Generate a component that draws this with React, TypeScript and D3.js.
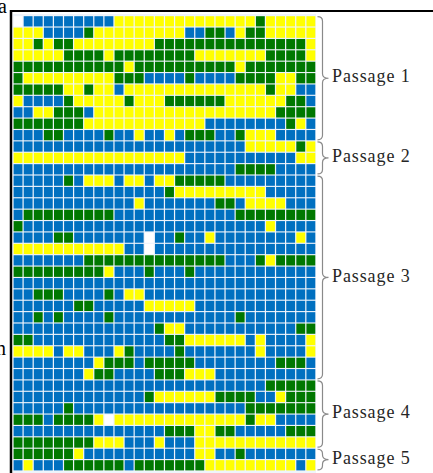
import React, { useEffect, useRef } from 'react';
import * as d3 from 'd3';

// B = blue, Y = yellow, G = green, W = empty
const passage1 = [
  'WBBBBBBBBBYYYYYYYYYYYYYYGYYYYY',
  'YYYBBBBGYYYYYYYYYBBGGBYGGYYYYY',
  'YYGYGGYYYYYYYYGGGGGGGGGGGGGGGY',
  'YYYYYGGGGYGGGGGGGGYYYYYYYGGGGY',
  'GGGGGGGGGGGYGGGGGGGGGGYGGGGGGG',
  'GYYYYYYYYYGGGBBBBGBBBBGGGGYYGG',
  'GGGGGYYGYYBYYYYYYYYYYYYYYGYYBB',
  'YBBBBGYYYYYGYYYGGGGGGYYYYYYGGB',
  'BBYYGGGBYYYYYYYYYYYYYYYYYYGGGG',
  'GGGGGGGYYYYYYYYYYYYBBBBBBBBGYB',
  'BBBGGBBBBGBBYBBYBGGGBBGYYYBBBB',
];
const passage2 = [
  'BBBBBBBBBBBBBBBBBBBBBBBYYYYYGY',
  'YYYYYYYYYYYYYYYYYBBBBBBBBBBBYY',
  'BBBBBBBBBBBBBBBBBBBBBBGGGGBBBB',
];
const passage3 = [
  'BBBBBGBYYYBYYBYYGGGGGBBBBBBBBB',
  'BBBBBBBBBBBBBBBGYYYYYYYYYBBBBB',
  'BBBBBBBBBBBBYBBBBBBBGGBYYYYBBB',
  'BGGGGGGGGGBBBBBBBBBBBBGGGGGGGG',
  'GBBBBBBBBBBBBBBBBBBBBBBBBYBBBB',
  'BBBBGGBBBBBBBWBBGBBYBBBBBBBBYB',
  'YYYYYYYYYYYBBWBBBBBBBBBBBBBBBB',
  'BBBBBBBGGGGGGGGGGGGGGBBBGYGGGG',
  'GGGGGGGGGYBBBGBBBGBBBBBBBBBBBB',
  'BBBBBBBBBBBBBBBBBBBBBBBBBBBBBB',
  'BBGGGBBBBGBYYBBBBBBBBBBBBBBBBB',
  'BBBBBBGGBBBBBYYYYYBBBBBBBBBBBB',
  'BBGBGBBBBGBBBBBBBBBBBBGBBBBBBB',
  'BBBBBBBBBBBBBBGYYBBBBBBBBBBBGG',
  'GGBBBBBBBBBBBBBGGYYYYYYBYBBBBY',
  'YYYYBYYBBBYGBBBBGBBBBBBBYBBBBY',
  'BBBBBBBBYGGGBGGGGGBBBBBBBBGGGB',
  'BBBBBBBYGGBBBBGGGYYYBBBBBBBBBB',
];
const passage4 = [
  'BBBBBBBBBBBBBBBBBBBBBBBBBGGGGG',
  'BBBBBBBBBBBBBGYYYYYYGGGGBBYGGG',
  'BBBBBGBBBBBBBBBBBBBBBBBGGGGGGG',
  'GGGBGGGGYWYYYYYYYYYYYYYGYYBBBB',
  'BBBBBBBBBBBBBBBGGGYYGGBBBBBGGG',
  'GGGGGGGGYYYBBBYBBBYYYYYYYYYYYY',
];
const passage5 = [
  'GGGGGGYBBBBBBBBBBBYYBBGBBBBBBB',
  'BYBBBGGGGGGBGGGGGGGYYYYYYYYYBY',
];

const passages = [passage1, passage2, passage3, passage4, passage5];
const passageLabels = ['Passage 1', 'Passage 2', 'Passage 3', 'Passage 4', 'Passage 5'];

const colors: Record<string, string> = {
  B: '#0070C0',
  Y: '#FFFF00',
  G: '#007800',
  W: '#FFFFFF',
};

const W = 433;
const H = 473;

const bracePath = (y0: number, y1: number) => {
  const xm = 322.5;
  const ym = (y0 + y1) / 2;
  const r = 4.5;
  return `M${xm - 5},${y0} Q${xm},${y0} ${xm},${y0 + r} L${xm},${ym - r} Q${xm},${ym} ${xm + 6},${ym} ` +
    `Q${xm},${ym} ${xm},${ym + r} L${xm},${y1 - r} Q${xm},${y1} ${xm - 5},${y1}`;
};

export default function App() {
  const ref = useRef<SVGSVGElement>(null);

  useEffect(() => {
    if (!ref.current) return;
    const svg = d3.select(ref.current);
    svg.selectAll('*').remove();

    const rows = passages.flat();
    const nCols = rows[0].length;

    const x = d3.scaleBand<number>()
      .domain(d3.range(nCols))
      .range([13.6, 315.3])
      .paddingInner(0.12);

    const y = d3.scaleBand<number>()
      .domain(d3.range(rows.length))
      .range([16.2, 470.4])
      .paddingInner(0.1);

    const cells = rows.flatMap((r, i) => r.split('').map((c, j) => ({ i, j, c })));

    svg.append('rect')
      .attr('x', 13)
      .attr('y', 14)
      .attr('width', 303)
      .attr('height', H)
      .attr('fill', '#eef4fb');

    svg.append('g')
      .selectAll('rect')
      .data(cells)
      .enter().append('rect')
      .attr('x', d => x(d.j)!)
      .attr('y', d => y(d.i)!)
      .attr('width', x.bandwidth())
      .attr('height', y.bandwidth())
      .attr('fill', d => colors[d.c]);

    // braces + labels
    let start = 0;
    passages.forEach((p, k) => {
      const y0 = y(start)! + 0.5;
      const y1 = y(start + p.length - 1)! + y.bandwidth() - 0.5;
      svg.append('path')
        .attr('d', bracePath(y0, y1))
        .attr('fill', 'none')
        .attr('stroke', '#8a8a8a')
        .attr('stroke-width', 1.2);
      svg.append('text')
        .attr('x', 332)
        .attr('y', (y0 + y1) / 2)
        .attr('dominant-baseline', 'middle')
        .style('font-family', '"Liberation Serif", "Times New Roman", serif')
        .style('font-size', '18px')
        .style('letter-spacing', '0.9px')
        .attr('fill', '#262626')
        .text(passageLabels[k]);
      start += p.length;
    });

    // frame lines from the surrounding figure
    svg.append('line')
      .attr('x1', 10).attr('x2', W)
      .attr('y1', 11).attr('y2', 11)
      .attr('stroke', '#000').attr('stroke-width', 2);
    svg.append('line')
      .attr('x1', 11).attr('x2', 11)
      .attr('y1', 10).attr('y2', H)
      .attr('stroke', '#000').attr('stroke-width', 2.5);

    svg.append('text')
      .attr('x', -2)
      .attr('y', 13)
      .style('font-family', '"Liberation Serif", serif')
      .style('font-size', '20px')
      .text('a');
    svg.append('text')
      .attr('x', -4)
      .attr('y', 355)
      .style('font-family', '"Liberation Serif", serif')
      .style('font-size', '20px')
      .text('n');
  }, []);

  return (
    <svg
      ref={ref}
      width={W}
      height={H}
      style={{ position: 'absolute', left: 0, top: 0, background: '#fff' }}
    />
  );
}
